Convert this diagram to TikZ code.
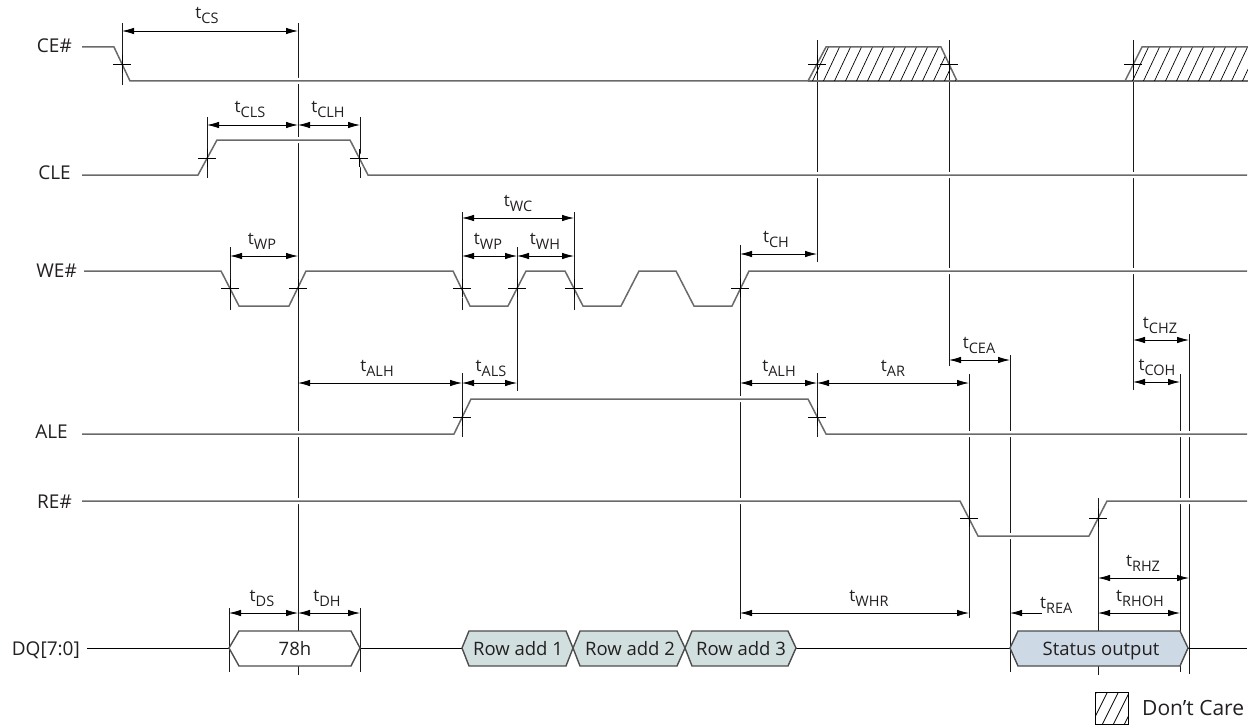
\documentclass[tikz,border=0pt]{standalone}
\usepackage{fontspec}
\setmainfont{Open Sans}
\usetikzlibrary{arrows.meta}
\definecolor{sigc}{HTML}{6A6A6A}
\definecolor{txt}{HTML}{231F20}
\definecolor{rowc}{HTML}{D1E0DE}
\definecolor{stc}{HTML}{CDDAE6}
\definecolor{boxc}{HTML}{4D4D4D}
\newcommand\tlab[1]{t\raisebox{-5pt}{\fontsize{14.5}{15}\selectfont #1}}
\begin{document}
\begin{tikzpicture}[x=1pt,y=-1pt,
  sig/.style={draw=sigc,line width=1.5pt},
  halo/.style={preaction={draw=white,line width=6pt}},
  vl/.style={draw=black!90,line width=0.9pt},
  xm/.style={draw=black,line width=0.9pt},
  dim/.style={draw=black,line width=0.8pt,{Latex[length=12pt,width=6.5pt]}-{Latex[length=12pt,width=6.5pt]}},
  dimone/.style={draw=black,line width=0.8pt,-{Latex[length=12pt,width=6.5pt]}},
  hatch/.style={draw=black,line width=0.7pt},
  lbl/.style={font=\fontsize{19}{22}\selectfont,text=txt,inner sep=0pt},
  tl/.style={font=\fontsize{17}{20}\selectfont,text=txt,inner sep=0pt,anchor=base},
  bt/.style={font=\fontsize{18.5}{22}\selectfont,text=txt,inner sep=0pt,anchor=base},
  bus/.style={draw=boxc,line width=1.4pt},
  dq/.style={draw=black,line width=0.9pt},
]
\useasboundingbox (0,0) rectangle (1248,725);

% vertical reference lines
\foreach \x/\a/\b in {122/23/85, 298/23/675, 207/117/178, 360/117/178, 230/247/310,
  462/212/310, 462/373/437, 517/247/391, 574/212/310, 740/245/619, 817/40/262,
  817/373/437, 949/40/366, 1133/40/390, 969/374/618, 1010/355/672, 1189/334/674,
  1180/374/672, 1098/498/675, 229/608/672, 360/608/672}
  \draw[vl] (\x,\a) -- (\x,\b);

% signals
\draw[sig,halo] (82,47) -- (114,47) -- (130,81) -- (808,81);
\draw[sig] (808,81) -- (1248,81);
\draw[sig,halo] (82,175) -- (198,175) -- (217,140) -- (350,140) -- (368,175) -- (1247,175);
\draw[sig,halo] (84,271) -- (221,271) -- (239,306) -- (289,306) -- (306,271) -- (453,271)
  -- (470,306) -- (508,306) -- (526,271) -- (565,271) -- (583,306) -- (621,306)
  -- (639,271) -- (676,271) -- (694,306) -- (732,306) -- (749,271) -- (1247,271);
\draw[sig,halo] (82,434) -- (454,434) -- (471,399) -- (808,399) -- (826,434) -- (1247,434);
\draw[sig,halo] (82,501) -- (960,501) -- (978,536) -- (1089,536) -- (1107,501) -- (1247,501);

% don't care regions on CE#
\begin{scope}
  \clip (808,81) -- (826,47) -- (941,47) -- (957,81) -- cycle;
  \foreach \x in {790,801,...,970} \draw[hatch] (\x,82) -- (\x+17,46);
\end{scope}
\draw[sig] (808,81) -- (826,47) -- (941,47) -- (957,81);
\begin{scope}
  \clip (1125,81) -- (1142,47) -- (1248,47) -- (1248,81) -- cycle;
  \foreach \x in {1110,1121,...,1260} \draw[hatch] (\x,82) -- (\x+17,46);
\end{scope}
\draw[sig] (1125,81) -- (1142,47) -- (1248,47);

% crossing marks
\foreach \x/\y in {122/64, 207/158, 359/158, 230/288, 298/288, 462/288, 517/288,
  574/288, 740/288, 462/417, 817/417, 969/518, 1098/518, 817/64, 949/64, 1133/64}
  \draw[xm] (\x-9,\y) -- (\x+9,\y) (\x,\y-9) -- (\x,\y+9);

% dimension arrows
\draw[dim] (122,31) -- (298,31);
\draw[dim] (207,125) -- (298,125);
\draw[dim] (298,125) -- (360,125);
\draw[dim] (230,256) -- (298,256);
\draw[dim] (462,218) -- (574,218);
\draw[dim] (462,256) -- (517,256);
\draw[dim] (517,256) -- (574,256);
\draw[dim] (740,254) -- (817,254);
\draw[dim] (298,383) -- (462,383);
\draw[dim] (462,383) -- (517,383);
\draw[dim] (740,383) -- (817,383);
\draw[dim] (817,383) -- (969,383);
\draw[dim] (949,360) -- (1010,360);
\draw[dim] (1133,340) -- (1189,340);
\draw[dim] (1133,382) -- (1180,382);
\draw[dim] (229,613) -- (298,613);
\draw[dim] (298,613) -- (360,613);
\draw[dim] (740,613) -- (969,613);
\draw[dimone] (1042,613) -- (1010,613);
\draw[dim] (1098,578) -- (1189,578);
\draw[dim] (1098,613) -- (1180,613);

% timing labels
\node[tl] (tcs) at (207,19) {\tlab{CS}};
\node[tl] (tcls) at (250,113) {\tlab{CLS}};
\node[tl] (tclh) at (328,113) {\tlab{CLH}};
\node[tl] (twc) at (518,206) {\tlab{WC}};
\node[tl] (twpa) at (262,244) {\tlab{WP}};
\node[tl] (twpb) at (488,244) {\tlab{WP}};
\node[tl] (twh) at (545,244) {\tlab{WH}};
\node[tl] (tch) at (776,242) {\tlab{CH}};
\node[tl] (talha) at (377,371) {\tlab{ALH}};
\node[tl] (tals) at (491,371) {\tlab{ALS}};
\node[tl] (talhb) at (779,371) {\tlab{ALH}};
\node[tl] (tar) at (893,371) {\tlab{AR}};
\node[tl] (tcea) at (979,348) {\tlab{CEA}};
\node[tl] (tchz) at (1160,328) {\tlab{CHZ}};
\node[tl] (tcoh) at (1157,370) {\tlab{COH}};
\node[tl] (tds) at (262,601) {\tlab{DS}};
\node[tl] (tdh) at (327,601) {\tlab{DH}};
\node[tl] (twhr) at (869,601) {\tlab{WHR}};
\node[tl] (trhz) at (1143,566) {\tlab{RHZ}};
\node[tl] (trhoh) at (1140,601) {\tlab{RHOH}};
\node[tl,anchor=base west] (trea) at (1040,608) {\tlab{REA}};

% DQ bus
\draw[dq] (87,648) -- (229,648);
\draw[dq] (360,648) -- (462,648);
\draw[dq] (796,648) -- (1010,648);
\draw[dq] (1188,648) -- (1247,648);
\draw[bus,fill=white] (229,648) -- (239,631) -- (351,631) -- (360,648) -- (351,666) -- (239,666) -- cycle;
\draw[bus,fill=rowc] (462,648) -- (469,631) -- (566,631) -- (573,648) -- (566,666) -- (469,666) -- cycle;
\draw[bus,fill=rowc] (573,648) -- (580,631) -- (677,631) -- (685,648) -- (677,666) -- (580,666) -- cycle;
\draw[bus,fill=rowc] (685,648) -- (692,631) -- (788,631) -- (796,648) -- (788,666) -- (692,666) -- cycle;
\draw[bus,fill=stc] (1010,648) -- (1018,631) -- (1180,631) -- (1188,648) -- (1180,666) -- (1018,666) -- cycle;
\node[bt] (d78) at (295,655) {78h};
\node[bt] (dra1) at (518,655) {Row add 1};
\node[bt] (dra2) at (630,655) {Row add 2};
\node[bt] (dra3) at (741,655) {Row add 3};
\node[bt] (dst) at (1101,655) {Status output};

% signal names
\node[lbl,anchor=base east] (lce) at (72,53) {CE\#};
\node[lbl,anchor=base east] (lcle) at (71,179) {CLE};
\node[lbl,anchor=base east] (lwe) at (77,277) {WE\#};
\node[lbl,anchor=base east] (lale) at (68,438) {ALE};
\node[lbl,anchor=base east] (lre) at (72,508) {RE\#};
\node[lbl,anchor=base east] (ldq) at (80,655) {DQ[7:0]};

% legend
\begin{scope}
  \clip (1095,692) rectangle (1128,724);
  \foreach \x in {1080,1091,...,1135} \draw[hatch] (\x,725) -- (\x+17,691);
\end{scope}
\draw[draw=black,line width=0.9pt] (1095,692) rectangle (1128,724);
\node[lbl,font=\fontsize{21}{24}\selectfont,anchor=base west] (ldc) at (1142,715) {Don’t Care};
\end{tikzpicture}
\end{document}
